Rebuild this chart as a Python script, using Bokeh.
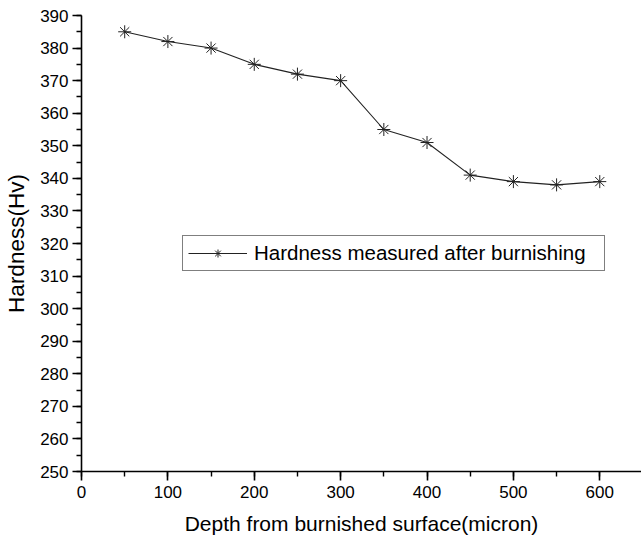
from bokeh.plotting import figure
from bokeh.models import SingleIntervalTicker, Legend, LegendItem, Range1d
from bokeh.embed import file_html
from bokeh.resources import INLINE

depth = [50, 100, 150, 200, 250, 300, 350, 400, 450, 500, 550, 600]
hardness = [385, 382, 380, 375, 372, 370, 355, 351, 341, 339, 338, 339]
series_label = "Hardness measured after burnishing"
x_label = "Depth from burnished surface(micron)"
y_label = "Hardness(Hv)"

FONT = "Liberation Sans"

p = figure(width=641, height=539, output_backend="svg", toolbar_location=None,
           x_range=Range1d(0, 648.3), y_range=Range1d(250, 390),
           min_border_left=81, min_border_right=0, min_border_top=15, min_border_bottom=68)
p.outline_line_color = None
p.grid.visible = False
p.background_fill_color = "white"
p.border_fill_color = "white"

ln = p.line(depth, hardness, line_color="#222222", line_width=1.1)
sc = p.scatter(depth, hardness, marker="asterisk", size=13, line_color="#222222", line_width=1.0)

p.xaxis.ticker = SingleIntervalTicker(interval=100, num_minor_ticks=2)
p.yaxis.ticker = SingleIntervalTicker(interval=10, num_minor_ticks=2)

for ax in (p.xaxis, p.yaxis):
    ax.axis_line_color = "black"
    ax.axis_line_width = 1.6
    ax.major_tick_line_color = "black"
    ax.major_tick_line_width = 1.6
    ax.minor_tick_line_color = "black"
    ax.minor_tick_line_width = 1.4
    ax.major_tick_out = 9
    ax.major_tick_in = 0
    ax.minor_tick_out = 5
    ax.minor_tick_in = 0
    ax.major_label_text_font = FONT
    ax.major_label_text_font_size = "17px"
    ax.major_label_text_color = "black"
    ax.axis_label_text_font = FONT
    ax.axis_label_text_font_style = "normal"
    ax.axis_label_text_color = "black"

p.xaxis.axis_label_text_font_size = "21px"
p.yaxis.axis_label_text_font_size = "22.5px"
p.xaxis.axis_label = x_label
p.yaxis.axis_label = y_label
p.xaxis.major_label_standoff = 5
p.yaxis.major_label_standoff = 4
p.xaxis.axis_label_standoff = 11
p.yaxis.axis_label_standoff = 8

legend = Legend(items=[LegendItem(label=series_label, renderers=[ln, sc])],
                location=(101, 200), margin=0, padding=5,
                glyph_width=59, glyph_height=20, label_height=20,
                label_width=345, label_standoff=7, spacing=0,
                border_line_color="black", border_line_width=1.2,
                background_fill_alpha=1.0,
                label_text_font=FONT, label_text_font_size="20.5px",
                label_text_color="black")
p.add_layout(legend)

open("out.html", "w").write(file_html(p, INLINE))
